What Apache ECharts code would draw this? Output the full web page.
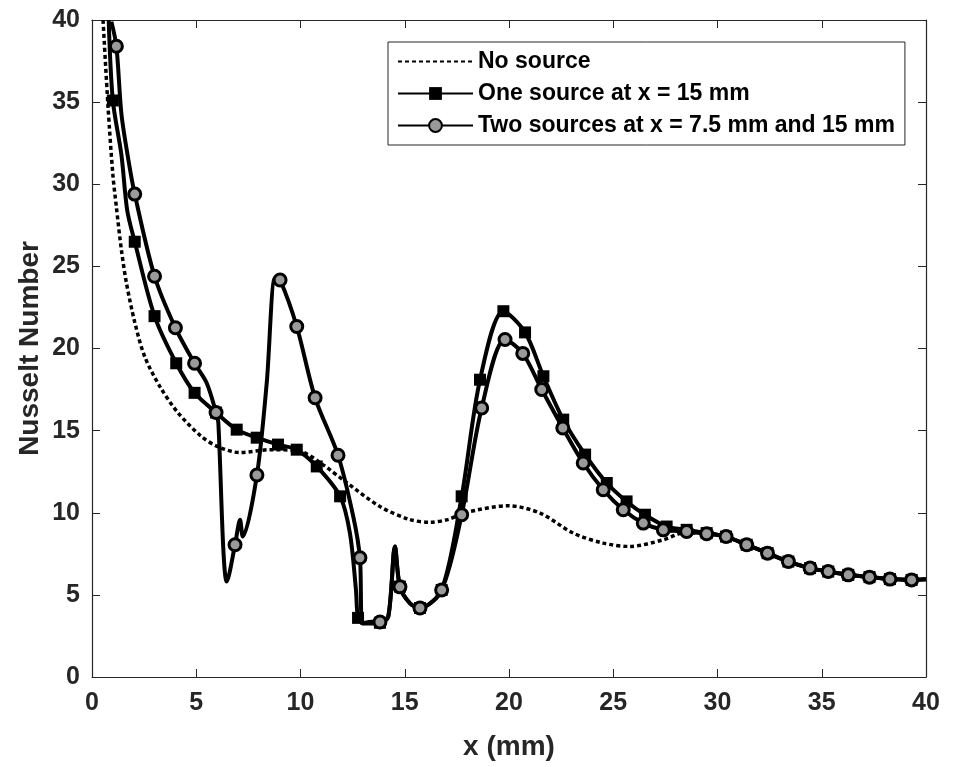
<!DOCTYPE html>
<html>
<head>
<meta charset="utf-8">
<script src="https://cdn.jsdelivr.net/npm/echarts@6/dist/echarts.min.js"></script>
<style>
html,body{margin:0;padding:0;background:#fff;}
#chart{width:955px;height:767px;}
</style>
</head>
<body>
<div id="chart"></div>
<script>
// ---- Data ----
const seriesNames = ['No source', 'One source at x = 15 mm', 'Two sources at x = 7.5 mm and 15 mm'];
const xTicks = [0, 5, 10, 15, 20, 25, 30, 35, 40];
const yTicks = [0, 5, 10, 15, 20, 25, 30, 35, 40];

// [x (mm), Nusselt number]
const noSource = [[0.53,40],[0.77,34.7],[1.0,30.6],[1.17,28.6],[1.41,26.0],[1.65,24.0],[2.05,21.6],[2.53,19.5],[3.25,17.7],[4.12,16.1],[5.2,14.7],[6.0,14.04],[7.1,13.66],[8.54,13.84],[9.98,13.74],[10.94,13.05],[12.22,11.83],[13.81,10.38],[15.2,9.6],[16.2,9.42],[17.1,9.6],[17.81,9.98],[19.97,10.43],[21.49,9.98],[23.08,8.76],[24.52,8.15],[25.8,7.95],[27.4,8.35],[28.36,8.76],[29.48,8.76],[30.41,8.55],[31.4,8.05],[32.4,7.54],[33.4,7.03],[34.44,6.63],[35.31,6.42],[36.27,6.22],[37.29,6.08],[38.27,5.96],[39.31,5.91],[40,5.95]];

// [x (mm), Nusselt number, marker shown (1) or not (0)]
const oneSource = [[0.8,40,0],[1.0,35.1,1],[1.41,31.8,0],[1.69,28.4,0],[2.05,26.5,1],[3.0,21.97,1],[4.04,19.1,1],[4.92,17.3,1],[5.95,16.1,1],[6.94,15.06,1],[7.9,14.57,1],[8.92,14.15,1],[9.82,13.84,1],[10.78,12.82,1],[11.9,11.0,1],[12.37,8.76,0],[12.66,5.3,0],[12.76,3.6,1],[13.0,3.25,0],[13.81,3.3,1],[14.21,3.68,0],[14.53,7.95,0],[14.77,5.5,1],[15.25,4.49,0],[15.73,4.2,1],[16.77,5.3,1],[17.73,11.0,1],[18.61,18.1,1],[19.73,22.27,1],[20.77,20.98,1],[21.65,18.31,1],[22.6,15.67,1],[23.65,13.54,1],[24.69,11.81,1],[25.64,10.69,1],[26.52,9.88,1],[27.56,9.16,1],[28.52,8.96,1],[29.48,8.76,1],[30.41,8.55,1],[31.4,8.05,1],[32.4,7.54,1],[33.4,7.03,1],[34.44,6.63,1],[35.31,6.42,1],[36.27,6.22,1],[37.29,6.08,1],[38.27,5.96,1],[39.31,5.91,1],[40,5.95,0]];

const twoSources = [[0.93,39.9,0],[1.17,38.4,1],[1.41,34.3,0],[1.73,31.6,0],[2.05,29.4,1],[3.0,24.4,1],[4.0,21.26,1],[4.92,19.1,1],[5.5,17.9,0],[5.95,16.1,1],[6.06,15.47,0],[6.3,7.74,0],[6.46,5.81,0],[6.86,8.05,1],[7.1,9.57,0],[7.23,8.55,0],[7.91,12.3,1],[8.38,17.9,0],[8.78,24.3,0],[9.02,24.17,1],[9.82,21.34,1],[10.7,17.0,1],[11.8,13.5,1],[12.53,9.77,0],[12.85,7.26,1],[12.98,3.27,0],[13.41,3.37,0],[13.81,3.35,1],[14.21,3.68,0],[14.53,7.95,0],[14.77,5.49,1],[15.25,4.49,0],[15.73,4.2,1],[16.77,5.3,1],[17.73,9.88,1],[18.69,16.38,1],[19.81,20.55,1],[20.66,19.7,1],[21.57,17.5,1],[22.58,15.16,1],[23.56,13.03,1],[24.52,11.4,1],[25.48,10.18,1],[26.44,9.37,1],[27.4,8.96,1],[28.52,8.86,1],[29.48,8.72,1],[30.41,8.55,1],[31.4,8.05,1],[32.4,7.54,1],[33.4,7.03,1],[34.44,6.63,1],[35.31,6.42,1],[36.27,6.22,1],[37.29,6.08,1],[38.27,5.96,1],[39.31,5.91,1],[40,5.95,0]];

// ---- Chart ----
const FONT = '"Liberation Sans", Arial, Helvetica, sans-serif';
const AX = '#262626';

function withMarkers(arr, sym) {
  return arr.map(p => ({ value: [p[0], p[1]], symbol: p[2] ? sym : 'none' }));
}

const chart = echarts.init(document.getElementById('chart'), null, { renderer: 'canvas' });

const tickStyle = { show: true, inside: true, length: 8, lineStyle: { color: AX, width: 1 } };
const lineAx = { show: true, onZero: false, lineStyle: { color: AX, width: 1.2 } };

const option = {
  backgroundColor: '#fff',
  animation: false,
  grid: { left: 92, right: 29, top: 20, bottom: 90, containLabel: false },
  legend: {
    orient: 'vertical',
    left: 388, top: 42,
    itemWidth: 75, itemHeight: 16, itemGap: 9,
    padding: [8, 10, 8, 9],
    backgroundColor: '#fff',
    borderColor: AX, borderWidth: 1, borderRadius: 0,
    textStyle: { fontFamily: FONT, fontSize: 23, fontWeight: 'bold', color: '#000' },
    data: [
      { name: seriesNames[0], itemStyle: { opacity: 0 } },
      { name: seriesNames[1] },
      { name: seriesNames[2] }
    ]
  },
  xAxis: [
    {
      type: 'value', min: xTicks[0], max: xTicks[xTicks.length - 1], interval: 5,
      name: 'x (mm)', nameLocation: 'middle', nameGap: 56, nameMoveOverlap: false,
      nameTextStyle: { fontFamily: FONT, fontSize: 28, fontWeight: 'bold', color: AX },
      axisLine: lineAx, axisTick: tickStyle, splitLine: { show: false },
      axisLabel: { margin: 14, fontFamily: FONT, fontSize: 25, fontWeight: 'bold', color: AX }
    },
    {
      type: 'value', position: 'top', min: xTicks[0], max: xTicks[xTicks.length - 1], interval: 5,
      axisLine: lineAx, axisTick: tickStyle, splitLine: { show: false }, axisLabel: { show: false }
    }
  ],
  yAxis: [
    {
      type: 'value', min: yTicks[0], max: yTicks[yTicks.length - 1], interval: 5,
      name: 'Nusselt Number', nameLocation: 'middle', nameGap: 48, nameMoveOverlap: false,
      nameTextStyle: { fontFamily: FONT, fontSize: 28, fontWeight: 'bold', color: AX },
      axisLine: lineAx, axisTick: tickStyle, splitLine: { show: false },
      axisLabel: { margin: 12, fontFamily: FONT, fontSize: 25, fontWeight: 'bold', color: AX }
    },
    {
      type: 'value', position: 'right', min: yTicks[0], max: yTicks[yTicks.length - 1], interval: 5,
      axisLine: lineAx, axisTick: tickStyle, splitLine: { show: false }, axisLabel: { show: false }
    }
  ],
  series: [
    {
      name: seriesNames[0], type: 'line', data: noSource, symbol: 'none',
      smooth: 0.3, clip: true,
      lineStyle: { color: '#000', width: 3.5, type: [4, 3] },
      itemStyle: { color: '#000' }
    },
    {
      name: seriesNames[1], type: 'line', data: withMarkers(oneSource, 'rect'),
      symbol: 'rect', symbolSize: 12, smooth: 0.3, clip: true,
      lineStyle: { color: '#000', width: 4 },
      itemStyle: { color: '#000' }
    },
    {
      name: seriesNames[2], type: 'line', data: withMarkers(twoSources, 'circle'),
      symbol: 'circle', symbolSize: 12, smooth: 0.3, clip: true,
      lineStyle: { color: '#000', width: 4 },
      itemStyle: { color: '#9a9a9a', borderColor: '#000', borderWidth: 3 }
    }
  ]
};
chart.setOption(option);
</script>
</body>
</html>
